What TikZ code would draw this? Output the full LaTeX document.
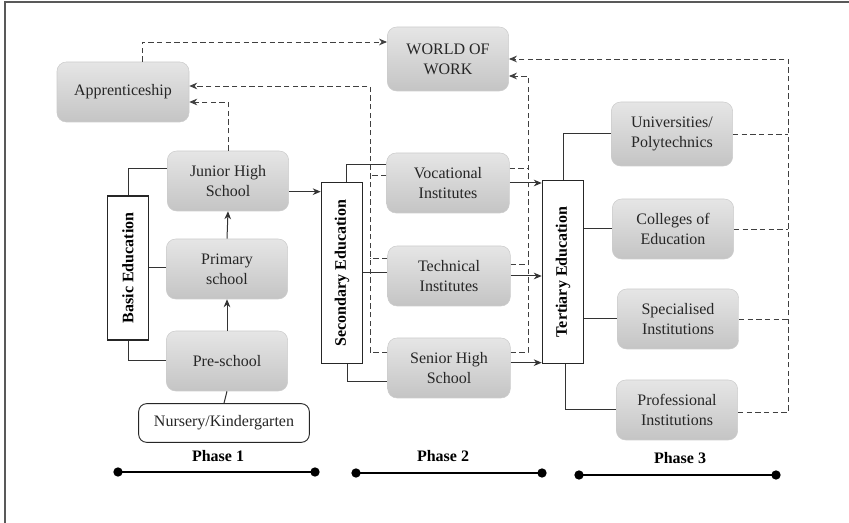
\documentclass[tikz,border=0pt]{standalone}
\usepackage{fontspec}
\setmainfont{Liberation Serif}
\usetikzlibrary{arrows.meta, positioning}

\begin{document}
\begin{tikzpicture}[x=0.75pt, y=-0.75pt, >={Stealth[length=6pt, width=5pt]},
		every node/.style={font=\fontsize{12}{15}\selectfont, text=black!85},
		box/.style={rounded corners=7pt, top color=black!10, bottom color=black!23, draw=black!20, align=center, minimum width=91pt, minimum height=45pt, inner sep=2pt},
		vbox/.style={draw=black!85, line width=0.9pt, fill=white, rotate=90, font=\fontsize{12}{15}\selectfont\bfseries, text=black},
		link/.style={draw=black!80, line width=0.75pt},
		linkdash/.style={draw=black!75, line width=0.7pt, dash pattern=on 4pt off 2.5pt},
		phase/.style={font=\fontsize{12}{15}\selectfont\bfseries, text=black}]
	\useasboundingbox (0,0) rectangle (849,523);
	
	% Frame
	\draw[black!65, line width=1pt] (5,523) -- (5,2) -- (849,2);
	
	% Boxes of phase 1
	\node[box, minimum width=99pt] (app) at (123,92) {Apprenticeship};
	\node[box, minimum height=48pt] (wow) at (448,59) {WORLD OF\\WORK};
	\node[box] (jhs) at (228,181) {Junior High\\School};
	\node[box] (pri) at (227,269) {Primary\\school};
	\node[box] (pre) at (227,361) {Pre-school};
	\node[draw=black!85, line width=0.7pt, rounded corners=6pt, fill=white, minimum width=128pt, minimum height=29pt] (nur) at (224,423) {Nursery/Kindergarten};
	% rotated boxes: east = top, south = right, west = bottom, north = left
	\node[vbox, minimum width=108pt, minimum height=31pt] (basic) at (128,268) {Basic Education};
	
	% Boxes of phase 2
	\node[vbox, minimum width=136pt, minimum height=31pt] (sec) at (342,273) {Secondary Education};
	\node[box, minimum width=92pt] (voc) at (448,183) {Vocational\\Institutes};
	\node[box, minimum width=92pt] (tech) at (449,276) {Technical\\Institutes};
	\node[box, minimum width=92pt] (shs) at (449,368) {Senior High\\School};
	
	% Boxes of phase 3
	\node[vbox, minimum width=137pt, minimum height=31pt] (ter) at (563,272) {Tertiary Education};
	\node[box, minimum height=48pt] (uni) at (672,134) {Universities/\\Polytechnics};
	\node[box] (col) at (673,229) {Colleges of\\Education};
	\node[box] (spe) at (678,319) {Specialised\\Institutions};
	\node[box] (pro) at (677,410) {Professional\\Institutions};
	
	% Solid links
	\draw[link] (basic.east) |- ([yshift=9pt]jhs.west);
	\draw[link] (basic.south) -- (basic.south -| pri.west);
	\draw[link] (basic.west) |- (pre.west);
	\draw[link] (nur.north) -- (pre.south);
	\draw[link, ->] (pre.north) -- (pri.south);
	\draw[link, ->] (pri.north) -- (jhs.south);
	\draw[link, ->] ([yshift=-8pt]jhs.east) -- ([yshift=-8pt]jhs.east -| sec.north);
	
	\draw[link] ([xshift=3pt]sec.east) |- ([yshift=14pt]voc.west);
	\draw[link] (sec.south) -- (sec.south -| tech.west);
	\draw[link] ([xshift=4pt]sec.west) |- ([yshift=-10pt]shs.west);
	\draw[link, ->] (voc.east) -- (voc.east -| ter.north);
	\draw[link, ->] (tech.east) -- (tech.east -| ter.north);
	\draw[link, ->] ([yshift=4pt]shs.east) -- ([yshift=4pt]shs.east -| ter.north);
	
	\draw[link] (ter.east) |- (uni.west);
	\draw[link] (ter.south |- col.west) -- (col.west);
	\draw[link] (ter.south |- spe.west) -- (spe.west);
	\draw[link] ([xshift=2pt]ter.west) |- (pro.west);
	
	% Dashed links to apprenticeship and world of work
	\coordinate (lbus) at (370,86);
	\coordinate (rbus) at (528,76);
	\coordinate (fbus) at (788,59);
	\draw[linkdash, ->] ([xshift=14.25pt]app.north) |- ([yshift=12.75pt]wow.west);
	\draw[linkdash, ->] (jhs.north) |- ([yshift=-7.5pt]app.east);
	\draw[linkdash, ->] ([yshift=12pt]shs.west) -| (lbus) -- (lbus -| app.east);
	\draw[linkdash] ([yshift=6pt]voc.west) -- ([yshift=6pt]voc.west -| lbus);
	\draw[linkdash] ([yshift=13pt]tech.west) -- ([yshift=13pt]tech.west -| lbus);
	\draw[linkdash, ->] ([yshift=12pt]shs.east) -| (rbus) -- (rbus -| wow.east);
	\draw[linkdash] ([yshift=11pt]voc.east) -- ([yshift=11pt]voc.east -| rbus);
	\draw[linkdash] ([yshift=9pt]tech.east) -- ([yshift=9pt]tech.east -| rbus);
	\draw[linkdash, ->] ([yshift=-2pt]pro.east) -| (fbus) -- (wow.east);
	\draw[linkdash] (uni.east) -- (uni.east -| fbus);
	\draw[linkdash] (col.east) -- (col.east -| fbus);
	\draw[linkdash] (spe.east) -- (spe.east -| fbus);
	
	% Phases
	\coordinate (p1a) at (118,472);
	\coordinate (p1b) at (315,472);
	\coordinate (p2a) at (356,473);
	\coordinate (p2b) at (542,473);
	\coordinate (p3a) at (579,475);
	\coordinate (p3b) at (776,475);
	\node[phase] (ph1) at (218,456) {Phase 1};
	\node[phase] (ph2) at (443,456) {Phase 2};
	\node[phase] (ph3) at (680,458) {Phase 3};
	\foreach \a/\b in {p1a/p1b, p2a/p2b, p3a/p3b}{
		\draw[line width=1pt] (\a) -- (\b);
		\fill (\a) circle (3.5pt);
		\fill (\b) circle (3.5pt);
	}
\end{tikzpicture}
\end{document}
